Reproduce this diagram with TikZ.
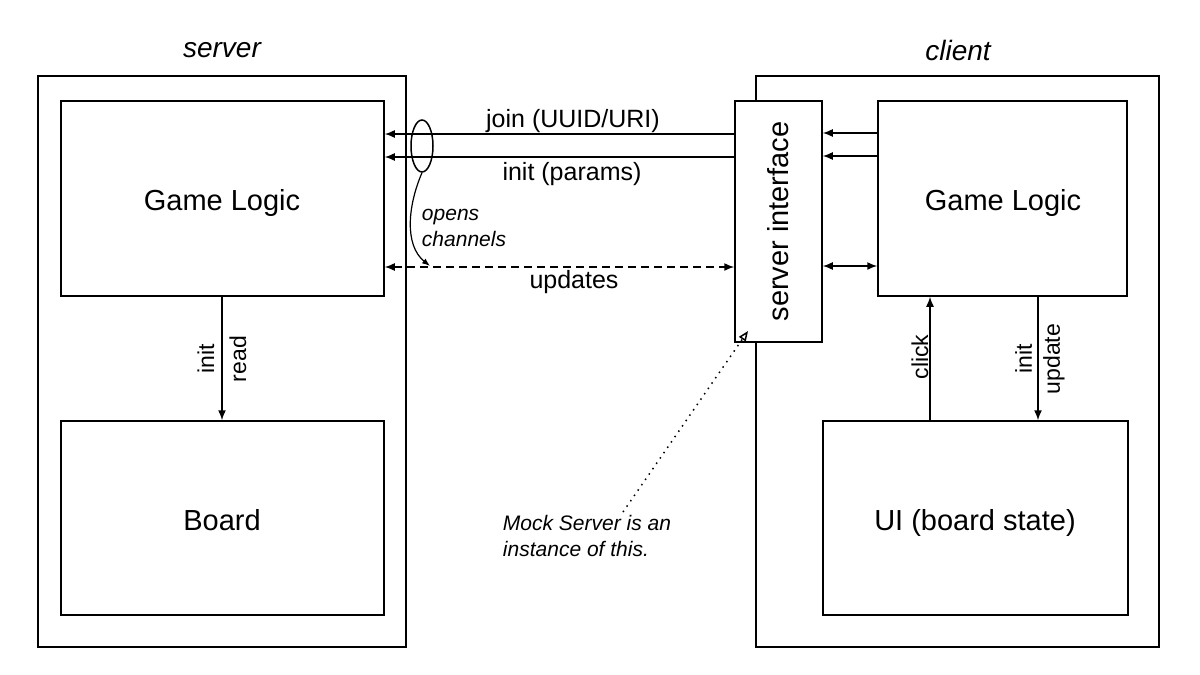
\documentclass[tikz,border=0pt]{standalone}
\usepackage{fontspec}
\setmainfont{Liberation Sans}
\usetikzlibrary{fit,arrows.meta,shapes.geometric}
\begin{document}
\begin{tikzpicture}[x=0.5pt,y=-0.5pt,
  box/.style={draw, line width=0.75pt, inner sep=0pt, fill=white},
  big/.style={font=\fontsize{14.5}{17}\selectfont, anchor=base, inner sep=0pt},
  mid/.style={font=\fontsize{12.5}{15}\selectfont},
  note/.style={font=\fontsize{10.5}{13}\selectfont\itshape, align=left, inner sep=0pt},
  title/.style={font=\fontsize{14}{17}\selectfont\itshape},
  vlab/.style={font=\fontsize{11.5}{16}\selectfont, rotate=90, align=center, inner sep=0pt},
  arr/.style={line width=0.75pt, -{Latex[length=5pt,width=4pt]}},
  darr/.style={line width=0.75pt, {Latex[length=5pt,width=4pt]}-{Latex[length=5pt,width=4pt]}},
]
\useasboundingbox (0,0) rectangle (1200,675);
% outer boxes
\node[box, fit={(38,76)(406,647)}] (srv) {};
\node[box, fit={(756,76)(1159,647)}] (cli) {};
\node[title] (srvt) at (222,50) {server};
\node[title] (clit) at (958,50) {client};
% server side
\node[box, fit={(61,101)(384,296)}] (sgl) {};
\node[big] (sglt) at (222,210) {Game Logic};
\node[box, fit={(61,421)(384,615)}] (brd) {};
\node[big] (brdt) at (222,530) {Board};
% client side
\node[box, fit={(878,101)(1127,296)}] (cgl) {};
\node[big] (cglt) at (1003,210) {Game Logic};
\node[box, fit={(823,421)(1128,615)}] (ui) {};
\node[big] (uit) at (975,530) {UI (board state)};
% server interface
\node[box, fit={(735,101)(822,342)}] (si) {};
\node[font=\fontsize{14.5}{17}\selectfont, rotate=90] (sit) at (si.center) {server interface};
% y-levels
\coordinate (yj) at (0,134);
\coordinate (yi) at (0,157);
\coordinate (yu) at (0,267);
\coordinate (yj2) at (0,133);
\coordinate (yi2) at (0,156);
\coordinate (yu2) at (0,266);
% server interface -> server game logic
\draw[arr] (si.west |- yj) -- (sgl.east |- yj);
\draw[arr] (si.west |- yi) -- (sgl.east |- yi);
\draw[darr, dash pattern=on 4pt off 2.5pt] (sgl.east |- yu) -- (si.west |- yu);
\node[mid] (jl) at (573,121) {join (UUID/URI)};
\node[mid] (il) at (572,174) {init (params)};
\node[mid] (ul) at (574,282) {updates};
% loop
\node[draw, ellipse, line width=0.75pt, minimum width=11pt, minimum height=26pt, inner sep=0pt] (loop) at (422,146) {};
\coordinate (loopend) at (430,266);
\draw[line width=0.6pt, -{Latex[length=4pt,width=3pt]}] (loop.south) .. controls (408,205) and (404,245) .. (loopend);
\node[note] (oc) at (464,228) {opens\\channels};
% client game logic -> server interface
\draw[arr] (cgl.west |- yj2) -- (si.east |- yj2);
\draw[arr] (cgl.west |- yi2) -- (si.east |- yi2);
\draw[darr] (si.east |- yu2) -- (cgl.west |- yu2);
% vertical arrows
\coordinate (xs) at (222,0);
\coordinate (xc) at (930,0);
\coordinate (xu) at (1038,0);
\draw[arr] (sgl.south -| xs) -- (brd.north -| xs);
\node[vlab] (irl) at (222,359) {init\\read};
\draw[arr] (ui.north -| xc) -- (cgl.south -| xc);
\node[vlab] (cl) at (920,357) {click};
\draw[arr] (cgl.south -| xu) -- (ui.north -| xu);
\node[vlab, font=\fontsize{11.5}{14}\selectfont] (iul) at (1040,359) {init\\update};
% mock server note
\node[note] (ms) at (587,536) {Mock Server is an\\instance of this.};
\coordinate (mstart) at (623,512);
\coordinate (mend) at (748,331);
\draw[line width=0.75pt, dash pattern=on 0.75pt off 2.5pt, -{Triangle[open,length=5pt,width=4pt]}] (mstart) -- (mend);
\end{tikzpicture}
\end{document}
